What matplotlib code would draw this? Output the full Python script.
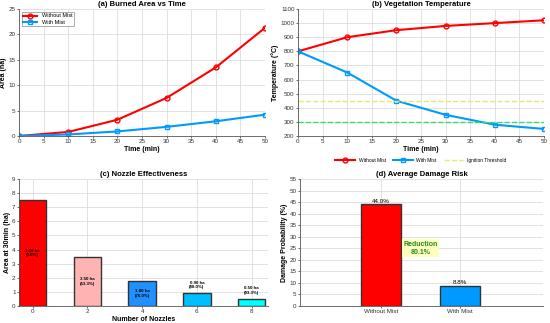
import matplotlib
matplotlib.use("Agg")
import matplotlib.pyplot as plt
import numpy as np

plt.rcParams['font.family'] = ['Liberation Sans', 'DejaVu Sans']

time = [0, 10, 20, 30, 40, 50]
area_without = [0, 0.8, 3.2, 7.5, 13.5, 21.3]
area_with = [0, 0.3, 0.9, 1.8, 2.9, 4.2]
temp_without = [800, 900, 950, 980, 1000, 1020]
temp_with = [800, 650, 450, 350, 280, 250]
ignition_threshold = 450
safe_threshold = 300
nozzles = [0, 2, 4, 6, 8]
nozzle_area = [7.5, 3.5, 1.8, 0.9, 0.5]
nozzle_reduction = [0.0, 53.3, 76.0, 88.0, 93.3]
nozzle_colors = ['#FF0000', '#FFB3B3', '#1E90FF', '#00BFFF', '#00FFFF']
risk_labels = ['Without Mist', 'With Mist']
risk_values = [44.0, 8.8]
risk_colors = ['#FF0000', '#0099FF']
reduction_pct = 80.1

RED = '#FF0000'
BLUE = '#0099FF'
TFS = 5.5
LFS = 5
KFS = 4.5

fig = plt.figure(figsize=(5.5, 3.23), dpi=100)
W, H = 550, 323
def ax_at(l, t, r, b):
    return fig.add_axes([l / W, 1 - b / H, (r - l) / W, (b - t) / H])

def style(ax):
    ax.grid(True, color='#dddddd', linewidth=0.6)
    ax.set_axisbelow(True)
    for s in ['top', 'right']:
        ax.spines[s].set_visible(False)
    for s in ['left', 'bottom']:
        ax.spines[s].set_color('#555555')
        ax.spines[s].set_linewidth(0.6)
    ax.tick_params(labelsize=KFS, length=1.5, width=0.5, pad=1, colors='#333333')

# (a)
ax1 = ax_at(19, 9, 265, 136)
ax1.plot(time, area_without, '-o', color=RED, lw=1.5, ms=3.5, mfc='none', mew=1.0, label='Without Mist')
ax1.plot(time, area_with, '-s', color=BLUE, lw=1.5, ms=3, mfc='none', mew=1.0, label='With Mist')
ax1.set_xlim(0, 50)
ax1.set_ylim(0, 25)
ax1.set_xticks(range(0, 51, 5))
ax1.set_yticks(range(0, 26, 5))
ax1.set_title('(a) Burned Area vs Time', fontsize=TFS, fontweight='bold', pad=2)
ax1.set_xlabel('Time (min)', fontsize=LFS, fontweight='bold', labelpad=1)
ax1.set_ylabel('Area (ha)', fontsize=LFS, fontweight='bold', labelpad=1)
style(ax1)
ax1.legend(loc='upper left', fontsize=4, frameon=True, fancybox=False, edgecolor='#888888',
           handlelength=2.5, borderpad=0.3, labelspacing=0.2, framealpha=1).get_frame().set_linewidth(0.5)

# (b)
ax2 = ax_at(298, 9, 544, 136)
ax2.plot(time, temp_without, '-o', color=RED, lw=1.5, ms=3.5, mfc='none', mew=1.0, label='Without Mist')
ax2.plot(time, temp_with, '-s', color=BLUE, lw=1.5, ms=3, mfc='none', mew=1.0, label='With Mist')
ax2.axhline(ignition_threshold, color='#E8E870', ls='--', lw=1.0, label='Ignition Threshold')
ax2.axhline(safe_threshold, color='#33DD66', ls='--', lw=1.0)
ax2.set_xlim(0, 50)
ax2.set_ylim(200, 1100)
ax2.set_xticks(range(0, 51, 5))
ax2.set_yticks(range(200, 1101, 100))
ax2.set_title('(b) Vegetation Temperature', fontsize=TFS, fontweight='bold', pad=2)
ax2.set_xlabel('Time (min)', fontsize=LFS, fontweight='bold', labelpad=1)
ax2.set_ylabel('Temperature (°C)', fontsize=LFS, fontweight='bold', labelpad=1)
style(ax2)
ax2.legend(loc='upper center', bbox_to_anchor=(0.5, -0.14), ncol=3, fontsize=3.5, frameon=False,
           handlelength=4, columnspacing=1.5)

# (c)
ax3 = ax_at(19, 179, 268, 306)
bars = ax3.bar(nozzles, nozzle_area, width=1.0, color=nozzle_colors, edgecolor='#333333', linewidth=1.0)
for x, v, r in zip(nozzles, nozzle_area, nozzle_reduction):
    y = v / 2 if v > 1 else v + 0.6
    ax3.text(x, y, f'{v:.2f} ha\n({r:.1f}%)', ha='center', va='center', fontsize=3.2, fontweight='bold')
ax3.set_xlim(-0.5, 8.6)
ax3.set_ylim(0, 9)
ax3.set_xticks(nozzles)
ax3.set_yticks(range(0, 10))
ax3.set_title('(c) Nozzle Effectiveness', fontsize=TFS, fontweight='bold', pad=2)
ax3.set_xlabel('Number of Nozzles', fontsize=LFS, fontweight='bold', labelpad=1)
ax3.set_ylabel('Area at 30min (ha)', fontsize=LFS, fontweight='bold', labelpad=1)
style(ax3)

# (d)
ax4 = ax_at(300, 179, 543, 306)
xs = np.arange(len(risk_labels))
ax4.bar(xs, risk_values, width=0.5, color=risk_colors, edgecolor='#333333', linewidth=1.0)
for x, v in zip(xs, risk_values):
    ax4.text(x, v + 0.3, f'{v:.1f}%', ha='center', va='bottom', fontsize=4.5)
ax4.text(0.5, 25, f'Reduction\n{reduction_pct:.1f}%', ha='center', va='center', fontsize=5,
         fontweight='bold', color='#228B22',
         bbox=dict(boxstyle='square,pad=0.2', facecolor='#FFFFC0', edgecolor='none'))
ax4.set_xlim(-1.02, 2.05)
ax4.set_ylim(0, 55)
ax4.set_xticks(xs)
ax4.set_xticklabels(risk_labels)
ax4.set_yticks(range(0, 56, 5))
ax4.set_title('(d) Average Damage Risk', fontsize=TFS, fontweight='bold', pad=2)
ax4.set_ylabel('Damage Probability (%)', fontsize=LFS, fontweight='bold', labelpad=1)
style(ax4)

fig.savefig('out.png', dpi=100)
